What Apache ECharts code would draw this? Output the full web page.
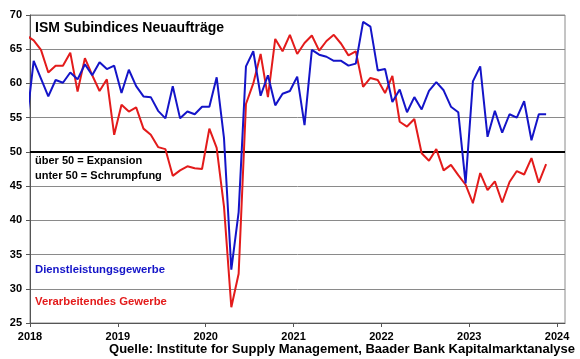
<!DOCTYPE html>
<html>
<head>
<meta charset="utf-8">
<script src="https://cdn.jsdelivr.net/npm/echarts@6/dist/echarts.min.js"></script>
<style>
html,body{margin:0;padding:0;background:#fff;}
#chart{width:580px;height:359px;}
</style>
</head>
<body>
<div id="chart"></div>
<script>
// Monthly readings, Dec 2017 .. Nov 2023 (mid-month points)
const startYear = 2017, startMonth = 12;
const dienstleistung = [
  54.0,
  63.3, 60.7, 58.1, 60.5, 60.1, 61.6, 60.6, 62.8, 61.2, 63.1, 62.1, 62.6,
  58.6, 62.0, 59.6, 58.1, 58.0, 56.0, 54.9, 59.6, 54.9, 55.9, 55.5, 56.6,
  56.6, 60.9, 52.0, 32.8, 41.2, 62.5, 64.7, 58.2, 61.2, 56.8, 58.5, 58.9,
  61.0, 53.9, 64.9, 64.2, 63.9, 63.3, 63.3, 62.6, 62.9, 69.0, 68.3, 61.9,
  62.1, 57.3, 59.1, 55.8, 58.0, 56.2, 58.9, 60.2, 59.0, 56.6, 55.8, 45.4,
  60.3, 62.5, 52.2, 56.0, 52.8, 55.5, 55.0, 57.4, 51.7, 55.5, 55.5
];
const verarbeitend = [
  67.0,
  66.3, 64.9, 61.6, 62.6, 62.6, 64.5, 58.8, 63.7, 61.2, 58.9, 60.6, 52.5,
  56.9, 55.9, 56.5, 53.4, 52.5, 50.7, 50.4, 46.5, 47.3, 47.9, 47.6, 47.5,
  53.4, 50.6, 42.0, 27.3, 32.2, 57.0, 60.0, 64.3, 58.0, 66.5, 64.7, 67.1,
  64.3, 65.9, 67.0, 64.8, 66.2, 67.1, 65.8, 64.1, 64.7, 59.5, 60.8, 60.5,
  58.6, 61.1, 54.4, 53.7, 54.8, 49.8, 48.7, 50.4, 47.3, 48.1, 46.6, 45.2,
  42.5, 46.9, 44.4, 45.7, 42.6, 45.6, 47.2, 46.7, 49.1, 45.5, 48.2
];
const yearTicks = [2018, 2019, 2020, 2021, 2022, 2023, 2024];
const yTicks = [25, 30, 35, 40, 45, 50, 55, 60, 65, 70];
const thresholdValue = 50;

const titleText = 'ISM Subindices Neuaufträge';
const noteLines = ['über 50 = Expansion', 'unter 50 = Schrumpfung'];
const nameBlue = 'Dienstleistungsgewerbe';
const nameRed = 'Verarbeitendes Gewerbe';
const sourceText = 'Quelle: Institute for Supply Management, Baader Bank Kapitalmarktanalyse';

function toPairs(arr) {
  return arr.map((v, i) => {
    const m = (startMonth - 1) + i; // months since Jan of startYear
    const x = startYear + (m + 0.5) / 12;
    return [x, v];
  });
}

const FONT = '"Liberation Sans", Arial, sans-serif';
const BLUE = '#1414c8';
const RED = '#e31b1b';

const chart = echarts.init(document.getElementById('chart'), null, {renderer: 'canvas'});
chart.setOption({
  animation: false,
  backgroundColor: '#fff',
  grid: {left: 30, right: 15, top: 15, bottom: 36, show: true, borderColor: '#8a8a8a', borderWidth: 1, backgroundColor: 'transparent'},
  xAxis: {
    type: 'value',
    min: 2018,
    max: 2024.09,
    interval: 1,
    axisLine: {show: true, onZero: false, lineStyle: {color: '#555', width: 1}},
    axisTick: {show: true, length: 4, inside: false, customValues: yearTicks, lineStyle: {color: '#555'}},
    axisLabel: {customValues: yearTicks, formatter: v => String(Math.round(v)), color: '#000', fontFamily: FONT, fontWeight: 'bold', fontSize: 11, margin: 8},
    splitLine: {show: false}
  },
  yAxis: {
    type: 'value',
    min: 25,
    max: 70,
    interval: 5,
    axisLine: {show: true, lineStyle: {color: '#555', width: 1}},
    axisTick: {show: true, length: 4, lineStyle: {color: '#555'}},
    axisLabel: {color: '#000', fontFamily: FONT, fontWeight: 'bold', fontSize: 11, margin: 8},
    splitLine: {show: true, lineStyle: {color: '#8a8a8a', width: 1}}
  },
  series: [
    {
      name: nameRed,
      type: 'line',
      data: toPairs(verarbeitend),
      showSymbol: false,
      symbol: 'none',
      clip: true,
      lineStyle: {color: RED, width: 2},
      z: 3,
      markLine: {
        silent: true,
        symbol: 'none',
        label: {show: false},
        lineStyle: {color: '#000', width: 2, type: 'solid'},
        data: [{yAxis: thresholdValue}],
        z: 2
      }
    },
    {
      name: nameBlue,
      type: 'line',
      data: toPairs(dienstleistung),
      showSymbol: false,
      symbol: 'none',
      clip: true,
      lineStyle: {color: BLUE, width: 2},
      z: 4
    }
  ],
  graphic: [
    {type: 'text', left: 35, top: 21, style: {text: titleText, fill: '#000', font: 'bold 14px ' + FONT}},
    {type: 'text', left: 35, top: 155, style: {text: noteLines[0], fill: '#000', font: 'bold 11px ' + FONT}},
    {type: 'text', left: 35, top: 170, style: {text: noteLines[1], fill: '#000', font: 'bold 11px ' + FONT}},
    {type: 'text', left: 35, top: 264, style: {text: nameBlue, fill: BLUE, font: 'bold 11.3px ' + FONT}},
    {type: 'text', left: 35, top: 296, style: {text: nameRed, fill: RED, font: 'bold 11.3px ' + FONT}},
    {type: 'text', right: 5, top: 343, style: {text: sourceText, fill: '#000', font: 'bold 13px ' + FONT}}
  ]
});
</script>
</body>
</html>
